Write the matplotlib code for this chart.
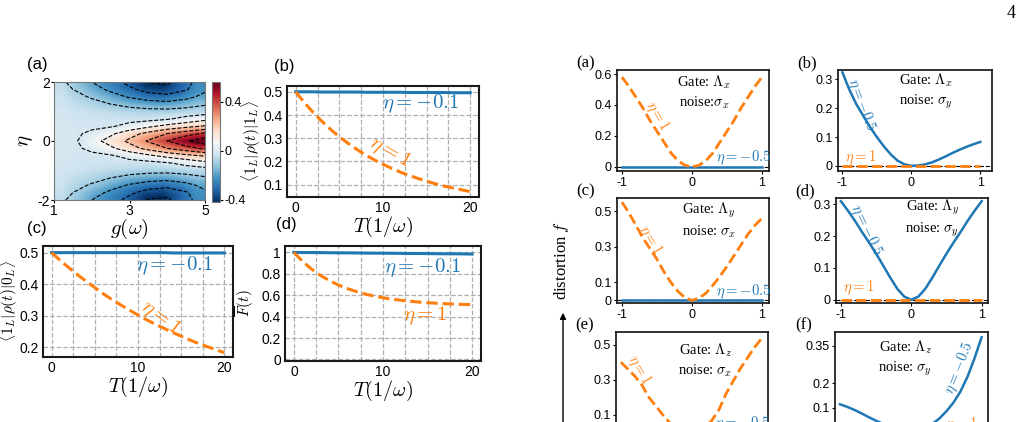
import numpy as np
import matplotlib.pyplot as plt
from matplotlib.colors import Normalize
from matplotlib.patches import FancyArrowPatch

plt.rcParams['font.family'] = ['Liberation Sans', 'DejaVu Sans']
plt.rcParams['mathtext.fontset'] = 'cm'
plt.rcParams['axes.unicode_minus'] = False

W, H = 1022, 422
BLUE = '#1f77b4'
ORANGE = '#ff7f0e'
SERIF = ['Liberation Serif', 'DejaVu Serif']

# ---- (a) left: <1_L|rho|1_L> over g and eta (rows eta = 0 .. 2, mirrored)
g_vals = [1, 1.5, 2, 2.5, 3, 3.5, 4, 4.5, 5]
eta_half = [0, 0.25, 0.5, 0.75, 1.0, 1.25, 1.5, 1.75, 2.0]
rho_half = [
    [-0.01, -0.02, 0.06, 0.14, 0.22, 0.31, 0.40, 0.49, 0.56],
    [-0.01, -0.02, 0.02, 0.08, 0.16, 0.23, 0.30, 0.36, 0.42],
    [-0.01, -0.02, -0.02, -0.01, 0.03, 0.08, 0.13, 0.17, 0.21],
    [-0.02, -0.03, -0.03, -0.03, -0.03, -0.03, -0.01, 0.03, 0.07],
    [-0.02, -0.03, -0.04, -0.05, -0.06, -0.07, -0.07, -0.06, -0.05],
    [-0.03, -0.05, -0.07, -0.10, -0.13, -0.15, -0.16, -0.14, -0.11],
    [-0.03, -0.07, -0.11, -0.16, -0.21, -0.25, -0.27, -0.23, -0.17],
    [-0.04, -0.10, -0.16, -0.22, -0.28, -0.34, -0.36, -0.31, -0.22],
    [-0.05, -0.13, -0.20, -0.26, -0.33, -0.41, -0.42, -0.33, -0.24],
]

# ---- (b)(c)(d) left: time traces
T = [0, 1, 2, 3, 4, 5, 6, 7, 8, 9, 10, 11, 12, 13, 14, 15, 16, 17, 18, 19, 20]
b_blue = [0.500, 0.500, 0.500, 0.499, 0.499, 0.499, 0.499, 0.499, 0.498, 0.498, 0.498,
          0.498, 0.498, 0.497, 0.497, 0.497, 0.497, 0.497, 0.496, 0.496, 0.496]
b_orange = [0.500, 0.453, 0.411, 0.373, 0.338, 0.306, 0.278, 0.252, 0.228, 0.207, 0.188,
            0.170, 0.154, 0.140, 0.127, 0.115, 0.104, 0.094, 0.086, 0.078, 0.070]
c_blue = [0.500, 0.500, 0.500, 0.500, 0.500, 0.500, 0.500, 0.500, 0.500, 0.500, 0.500,
          0.500, 0.500, 0.500, 0.499, 0.499, 0.499, 0.499, 0.499, 0.499, 0.499]
c_orange = [0.500, 0.475, 0.452, 0.430, 0.409, 0.389, 0.369, 0.351, 0.334, 0.318, 0.302,
            0.287, 0.273, 0.260, 0.247, 0.235, 0.223, 0.212, 0.202, 0.192, 0.183]
d_blue = [1.000, 0.999, 0.999, 0.998, 0.997, 0.996, 0.996, 0.995, 0.994, 0.993, 0.993,
          0.992, 0.991, 0.990, 0.990, 0.989, 0.988, 0.987, 0.987, 0.986, 0.985]
d_orange = [1.000, 0.914, 0.843, 0.784, 0.736, 0.695, 0.662, 0.634, 0.611, 0.592, 0.576,
            0.563, 0.553, 0.544, 0.536, 0.530, 0.525, 0.521, 0.517, 0.514, 0.512]

# ---- right: distortion f versus x
xs = [-1, -0.9, -0.8, -0.7, -0.6, -0.5, -0.4, -0.3, -0.2, -0.1, 0,
      0.1, 0.2, 0.3, 0.4, 0.5, 0.6, 0.7, 0.8, 0.9, 1]
zeros = [0.0] * 21
ra_orange = [0.58, 0.52, 0.45, 0.38, 0.30, 0.23, 0.16, 0.09, 0.04, 0.01, 0.0,
             0.01, 0.04, 0.09, 0.16, 0.23, 0.30, 0.38, 0.45, 0.52, 0.58]
rb_blue = [0.325, 0.265, 0.215, 0.175, 0.135, 0.100, 0.068, 0.040, 0.018, 0.005, 0.0,
           0.001, 0.005, 0.012, 0.022, 0.033, 0.045, 0.056, 0.066, 0.075, 0.083]
rc_orange = [0.55, 0.49, 0.42, 0.35, 0.29, 0.23, 0.16, 0.10, 0.05, 0.015, 0.0,
             0.012, 0.04, 0.085, 0.135, 0.19, 0.25, 0.31, 0.37, 0.42, 0.46]
rd_blue = [0.31, 0.28, 0.248, 0.213, 0.18, 0.145, 0.108, 0.07, 0.035, 0.01, 0.0,
           0.01, 0.035, 0.07, 0.108, 0.145, 0.18, 0.213, 0.248, 0.28, 0.31]
re_orange = [0.40, 0.36, 0.32, 0.27, 0.20, 0.15, 0.10, 0.055, 0.022, 0.005, 0.0,
             0.008, 0.03, 0.07, 0.13, 0.22, 0.29, 0.36, 0.42, 0.48, 0.53]
rf_blue = [0.114, 0.104, 0.092, 0.078, 0.063, 0.049, 0.036, 0.025, 0.016, 0.010, 0.006,
           0.008, 0.018, 0.034, 0.056, 0.085, 0.120, 0.165, 0.225, 0.300, 0.385]


def rect(x0, y0, x1, y1):
    return [x0 / W, 1 - y1 / H, (x1 - x0) / W, (y1 - y0) / H]


fig = plt.figure(figsize=(W / 100, H / 100), dpi=100)

# ================= left block =================
ax = fig.add_axes(rect(54, 82, 205, 200))
Z = np.array(rho_half[:0:-1] + rho_half)
eta = np.array([-e for e in eta_half[:0:-1]] + eta_half)
norm = Normalize(vmin=-0.42, vmax=0.56)
im = ax.imshow(Z, extent=[1, 5, -2, 2], origin='lower', aspect='auto',
               cmap='RdBu_r', norm=norm, interpolation='bilinear')
ax.contour(g_vals, eta, Z, levels=[-0.4, -0.3, -0.2, -0.1, 0, 0.1, 0.2, 0.3, 0.4, 0.5],
           colors='k', linestyles='--', linewidths=0.8)
ax.set_xlim(1, 5)
ax.set_ylim(-2, 2)
ax.set_xticks([1, 3, 5])
ax.set_yticks([-2, 0, 2])
ax.tick_params(labelsize=10, length=2, pad=1)
for s in ax.spines.values():
    s.set_color('#777777')
ax.set_xlabel(r'$g(\omega)$', fontsize=15, labelpad=-1)
ax.set_ylabel(r'$\eta$', fontsize=15, labelpad=2)
fig.text(37 / W, 1 - 64 / H, '(a)', fontsize=12, ha='center', va='center')

cax = fig.add_axes(rect(212, 82, 220, 202))
cb = fig.colorbar(im, cax=cax, ticks=[-0.4, 0, 0.4])
cb.ax.set_yticklabels(['-0.4', '0', '0.4'])
cb.ax.tick_params(labelsize=9, length=2, pad=1)
cb.outline.set_edgecolor('#777777')


def time_panel(r, yb, yo, ylim, yticks, ylabels, ylab, ylabx, tag, tagpos, blue_txt, orange_txt):
    a = fig.add_axes(rect(*r))
    a.plot(T, yb, color=BLUE, lw=2.2)
    a.plot(T, yo, color=ORANGE, lw=2.2, ls='--')
    a.set_xlim(-1, 21)
    a.set_ylim(*ylim)
    a.set_xticks([0, 10, 20])
    a.set_xticks([2.5, 5, 7.5, 12.5, 15, 17.5], minor=True)
    a.set_yticks(yticks)
    a.set_yticklabels(ylabels)
    a.grid(True, which='both', axis='x', ls='--', color='#b0b0b0', lw=0.9)
    a.grid(True, which='major', axis='y', ls='--', color='#b0b0b0', lw=0.9)
    a.tick_params(which='both', length=0, labelsize=10, pad=3)
    for s in a.spines.values():
        s.set_color('#1a1a1a')
        s.set_linewidth(1.5)
    a.set_xlabel(r'$T(1/\omega)$', fontsize=14.5, labelpad=-0.5)
    a.set_ylabel(ylab, fontsize=11)
    a.yaxis.set_label_coords((ylabx - r[0]) / (r[2] - r[0]), 0.5)
    fig.text(tagpos[0] / W, 1 - tagpos[1] / H, tag, fontsize=12, ha='center', va='center')
    a.text(blue_txt[0], blue_txt[1], r'$\eta=-0.1$', color=BLUE, fontsize=15,
           ha='center', va='center')
    a.text(orange_txt[0], orange_txt[1], r'$\eta=1$', color=ORANGE, fontsize=15,
           ha='center', va='center', rotation=orange_txt[2])
    return a


time_panel((287, 86, 479, 197), b_blue, b_orange, (0.047, 0.525),
           [0.1, 0.2, 0.3, 0.4, 0.5], ['0.1', '0.2', '0.3', '0.4', '0.5'],
           r'$\langle 1_L|\rho(t)|1_L\rangle$', 263, '(b)', (284, 66),
           (14.3, 0.447), (10.8, 0.24, -30))
time_panel((43, 246, 233, 357), c_blue, c_orange, (0.169, 0.521),
           [0.2, 0.3, 0.4, 0.5], ['0.2', '0.3', '0.4', '0.5'],
           r'$\langle 1_L|\rho(t)|0_L\rangle$', 20, '(c)', (37, 229),
           (14.2, 0.457), (12.6, 0.292, -38))
time_panel((285, 246, 481, 361), d_blue, d_orange, (-0.015, 1.06),
           [0, 0.2, 0.4, 0.6, 0.8, 1.0], ['0', '0.2', '0.4', '0.6', '0.8', '1'],
           r'$\overline{F}(t)$', 256, '(d)', (286, 225),
           (14.4, 0.86), (14.7, 0.405, 0))

# ================= right block =================
panels = [
    # rect, blue, orange, ylim, yticks, xlim, tag, gate, noise, gate pos, sep,
    # blue label (x, y, rot), orange label (x, y, rot)
    ((617, 70, 769, 171), zeros, ra_orange, (-0.027, 0.626), [0, 0.2, 0.4, 0.6],
     (-1.07, 1.1), '(a)', 'x', 'x', (0.17, 0.48), ':', (0.73, 0.056, 0), (-0.5, 0.33, -60)),
    ((838, 70, 992, 171), rb_blue, zeros, (-0.018, 0.333), [0, 0.1, 0.2, 0.3],
     (-1.064, 1.17), '(b)', 'x', 'y', (0.21, 0.26), ': ', (-0.73, 0.212, -70), (-0.73, 0.027, 0)),
    ((617, 198, 769, 303), zeros, rc_orange, (-0.015, 0.573), [0, 0.1, 0.3, 0.5],
     (-1.07, 1.1), '(c)', 'y', 'x', (0.24, 0.45), ': ', (0.73, 0.05, 0), (-0.6, 0.335, -60)),
    ((836, 198, 988, 303), rd_blue, zeros, (-0.01, 0.32), [0, 0.1, 0.2, 0.3],
     (-1.07, 1.09), '(d)', 'y', 'y', (0.3, 0.257), ': ', (-0.65, 0.22, -65), (-0.74, 0.038, 0)),
    ((616, 332, 768, 437), zeros, re_orange, (-0.025, 0.571), [0, 0.1, 0.3, 0.5],
     (-1.07, 1.1), '(e)', 'z', 'x', (0.2, 0.41), ': ', (0.73, 0.05, 0), (-0.74, 0.355, -60)),
    ((835, 332, 988, 437), rf_blue, zeros, (-0.018, 0.406), [0, 0.1, 0.2, 0.35],
     (-1.07, 1.09), '(f)', 'z', 'y', (-0.08, 0.3), ': ', (0.69, 0.26, 68), (0.72, 0.03, 0)),
]

for (r, yb, yo, ylim, yt, xlim, tag, gate, noise, gpos, sep, btxt, otxt) in panels:
    a = fig.add_axes(rect(*r))
    a.axhline(0, color='k', ls='--', lw=0.8)
    a.plot(xs, yb, color=BLUE, lw=1.8)
    a.plot(xs, yo, color=ORANGE, lw=2.0, ls='--')
    a.set_xlim(*xlim)
    a.set_ylim(*ylim)
    a.set_xticks([-1, 0, 1])
    a.set_xticklabels(['-1', '0', '1'])
    a.set_yticks(yt)
    a.set_yticklabels(['0' if v == 0 else f'{v:g}' for v in yt])
    a.tick_params(labelsize=9, length=2, pad=2)
    for s in a.spines.values():
        s.set_color('#111111')
        s.set_linewidth(1.2)
    a.text(gpos[0], gpos[1],
           'Gate: $\\Lambda_%s$\nnoise%s$\\sigma_%s$' % (gate, sep, noise),
           fontsize=10.5, family=SERIF, ha='center', va='center', linespacing=1.3)
    a.text(btxt[0], btxt[1], r'$\eta=-0.5$', color=BLUE, fontsize=10.5,
           ha='center', va='center', rotation=btxt[2])
    a.text(otxt[0], otxt[1], r'$\eta=1$', color=ORANGE, fontsize=10.5,
           ha='center', va='center', rotation=otxt[2])
    fig.text((r[0] - 31) / W, 1 - (r[1] - 7) / H, tag, fontsize=12, family=SERIF,
             ha='center', va='center')

fig.text(561 / W, 1 - 260 / H, r'distortion $f$', fontsize=12, family=SERIF,
         rotation=90, ha='center', va='center')
fig.add_artist(FancyArrowPatch((563 / W, -0.1), (563 / W, 1 - 310 / H),
                               transform=fig.transFigure, arrowstyle='-|>',
                               mutation_scale=9, color='k', lw=1))

fig.text(1011 / W, 1 - 14 / H, '4', fontsize=13, family=SERIF, ha='center', va='center')

fig.savefig('out.png', dpi=100)
